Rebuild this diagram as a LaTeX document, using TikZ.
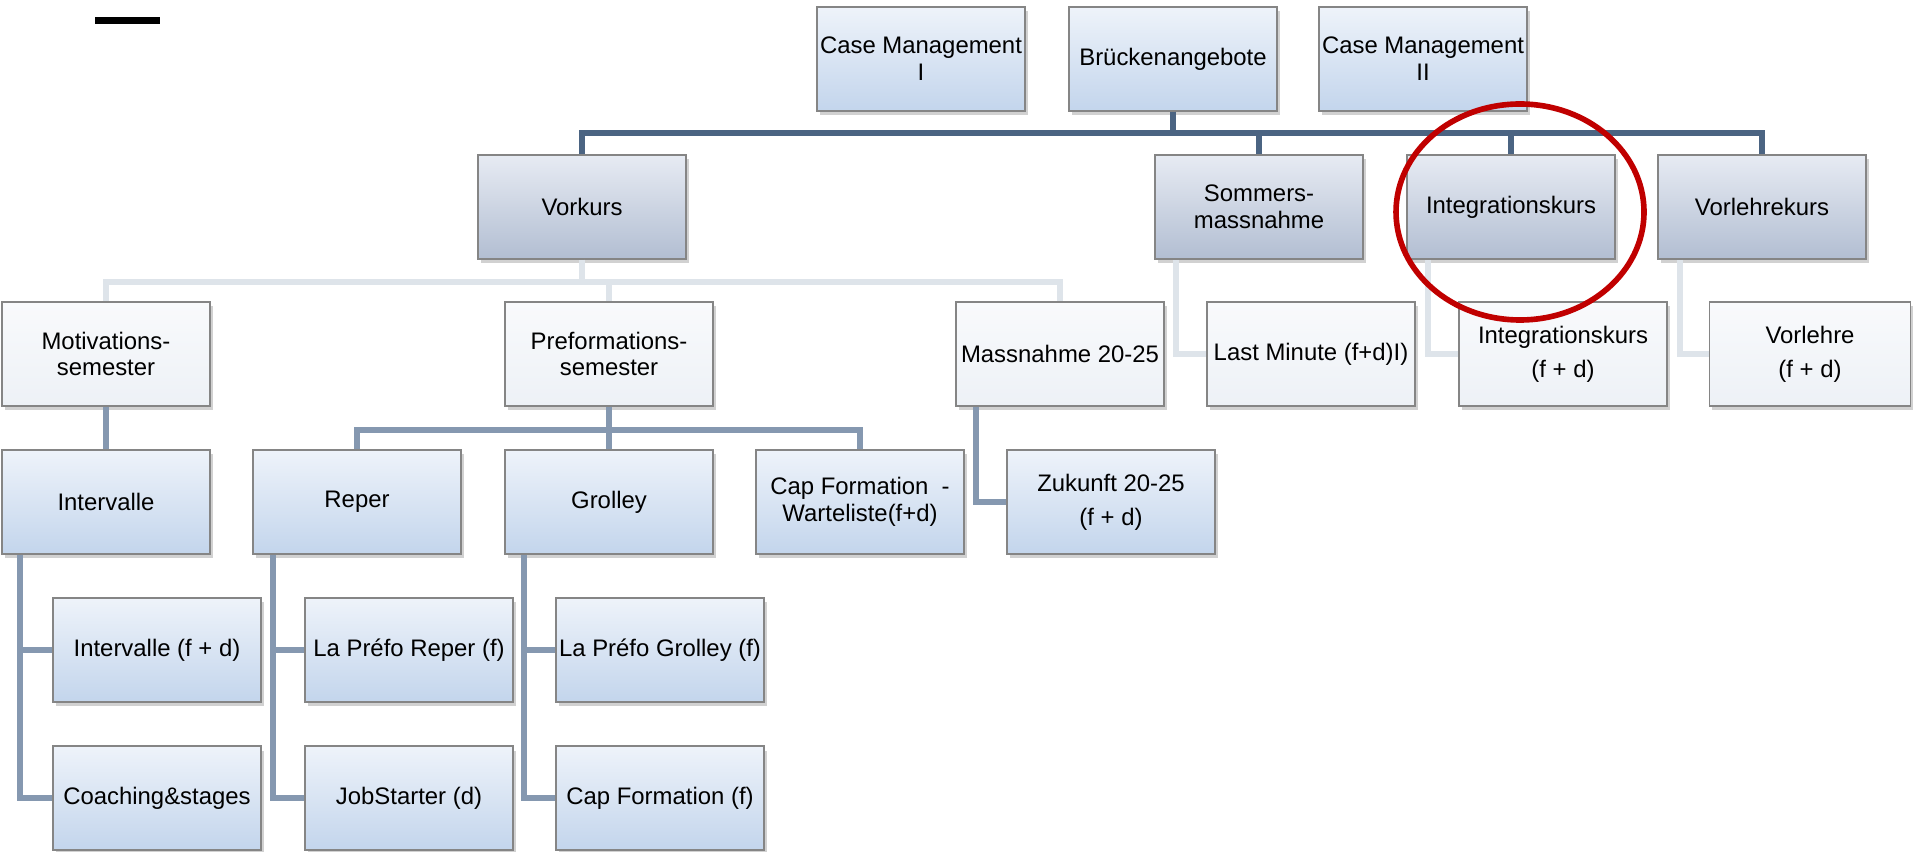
\documentclass[tikz,border=0pt]{standalone}
\usepackage{fontspec}
\setmainfont{Liberation Sans}
\usetikzlibrary{calc,shadows}
\definecolor{blueTop}{HTML}{EEF3FA}
\definecolor{blueBot}{HTML}{C3D5EC}
\definecolor{greyTop}{HTML}{E7EBF3}
\definecolor{greyBot}{HTML}{B2BED2}
\definecolor{whiteTop}{HTML}{F9FAFC}
\definecolor{whiteBot}{HTML}{EDF1F6}
\definecolor{boxLine}{HTML}{858585}
\definecolor{lineDark}{HTML}{4B6482}
\definecolor{lineMid}{HTML}{8598B0}
\definecolor{lineLight}{HTML}{DEE4EA}
\definecolor{ringRed}{HTML}{C00000}

\begin{document}
\begin{tikzpicture}[
                x=0.1mm, y=-0.1mm,
                font=\fontsize{6.8}{7.6}\selectfont,
                box/.style={draw=boxLine, line width=0.5pt, align=center, inner sep=0.5pt,
                    minimum width=20.8mm, minimum height=10.4mm,
                    drop shadow={shadow xshift=0.25mm, shadow yshift=-0.45mm, opacity=0.3, fill=black!60}},
                bluebox/.style={box, top color=blueTop, bottom color=blueBot},
                greybox/.style={box, top color=greyTop, bottom color=greyBot},
                whitebox/.style={box, top color=whiteTop, bottom color=whiteBot},
                darkline/.style={draw=lineDark, line width=1.7pt},
                midline/.style={draw=lineMid, line width=1.6pt},
                lightline/.style={draw=lineLight, line width=1.6pt},
            ]
                \useasboundingbox (0,0) rectangle (1913,852);
                \fill[black] (95,17) rectangle (160,24);

                \node[bluebox] (cmone) at (921,59) {Case Management\\I};
                \node[bluebox] (bruecke) at (1173,59) {Brückenangebote};
                \node[bluebox] (cmtwo) at (1423,59) {Case Management\\II};

                \node[greybox] (vorkurs) at (582,207) {Vorkurs};
                \node[greybox] (sommer) at (1259,207) {Sommers-\\massnahme};
                \node[greybox] (integ) at (1511,207) {Integrationskurs};
                \node[greybox] (vorlk) at (1762,207) {Vorlehrekurs};

                \node[whitebox] (motiv) at (106,354) {Motivations-\\semester};
                \node[whitebox] (prefo) at (609,354) {Preformations-\\semester};
                \node[whitebox] (mass) at (1060,354) {Massnahme 20-25};
                \node[whitebox] (lastmin) at (1311,354) {Last Minute (f+d)I)};
                \node[whitebox] (integfd) at (1563,354) {Integrationskurs\\[2pt](f + d)};
                \node[whitebox, minimum width=20.1mm] (vorlehre) at (1810,354) {Vorlehre\\[2pt](f + d)};

                \node[bluebox] (interv) at (106,502) {Intervalle};
                \node[bluebox] (reper) at (357,502) {Reper};
                \node[bluebox] (grolley) at (609,502) {Grolley};
                \node[bluebox] (capwait) at (860,502) {Cap Formation~ -\\Warteliste(f+d)};
                \node[bluebox] (zukunft) at (1111,502) {Zukunft 20-25\\[2pt](f + d)};

                \node[bluebox] (intervfd) at (157,650) {Intervalle (f + d)};
                \node[bluebox] (prefrep) at (409,650) {La Préfo Reper (f)};
                \node[bluebox] (prefgro) at (660,650) {La Préfo Grolley (f)};
                \node[bluebox] (coach) at (157,798) {Coaching\&stages};
                \node[bluebox] (jobst) at (409,798) {JobStarter (d)};
                \node[bluebox] (capf) at (660,798) {Cap Formation (f)};

                \foreach \n in {vorkurs, sommer, integ, vorlk}
                    \draw[darkline] (bruecke.south) -- ++(0,21) -| (\n.north);
                \foreach \n in {motiv, prefo, mass}
                    \draw[lightline] (vorkurs.south) -- ++(0,22) -| (\n.north);
                \draw[lightline] ($(sommer.south west)+(22,0)$) |- (lastmin.west);
                \draw[lightline] ($(integ.south west)+(22,0)$) |- (integfd.west);
                \draw[lightline] ($(vorlk.south west)+(23,0)$) |- (vorlehre.west);

                \draw[midline] (motiv.south) -- (interv.north);
                \foreach \n in {reper, grolley, capwait}
                    \draw[midline] (prefo.south) -- ++(0,23) -| (\n.north);
                \draw[midline] ($(mass.south west)+(21,0)$) |- (zukunft.west);
                \draw[midline] ($(interv.south west)+(19,0)$) |- (intervfd.west);
                \draw[midline] ($(interv.south west)+(19,0)$) |- (coach.west);
                \draw[midline] ($(reper.south west)+(21,0)$) |- (prefrep.west);
                \draw[midline] ($(reper.south west)+(21,0)$) |- (jobst.west);
                \draw[midline] ($(grolley.south west)+(20,0)$) |- (prefgro.west);
                \draw[midline] ($(grolley.south west)+(20,0)$) |- (capf.west);

                \draw[ringRed, line width=1.6pt] (1520,212) ellipse [x radius=124, y radius=108];
            \end{tikzpicture}
\end{document}
